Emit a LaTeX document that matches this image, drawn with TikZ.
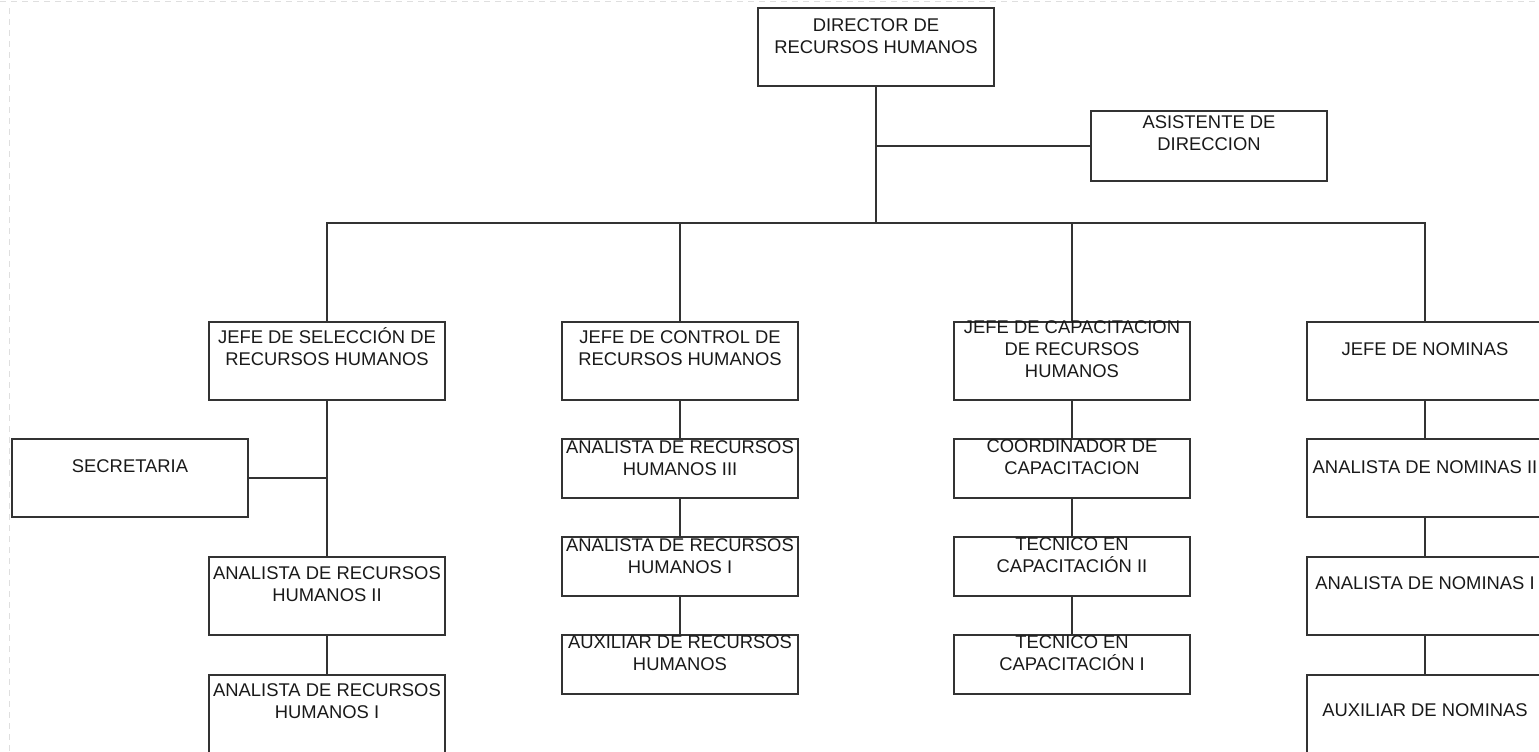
\documentclass[tikz,border=0pt]{standalone}
\usepackage{fontspec}
\setmainfont{Liberation Sans}
\begin{document}
\begin{tikzpicture}[x=0.5pt,y=-0.5pt,
  box/.style={draw=black!80, line width=0.75pt, rectangle, inner sep=0pt, outer sep=0pt,
    minimum width=118pt, anchor=north},
  tall/.style={box, minimum height=39pt},
  short/.style={box, minimum height=29.5pt},
  txt/.style={font=\fontsize{9.2}{11}\selectfont, align=center, inner sep=0pt, anchor=base, text=black!90},
  link/.style={draw=black!80, line width=0.75pt},
  frame/.style={draw=gray!25, line width=0.8pt, dash pattern=on 3pt off 2.5pt}]
\useasboundingbox (0,0) rectangle (1539,751);
\draw[frame] (9.5,8) -- (9.5,751);
\draw[frame] (0,1.5) -- (1539,1.5);
\begin{scope}
\clip (0,0) rectangle (1539,751);
% boxes
\node[tall] (dir) at (876,8) {};
\node[box, minimum height=35pt] (asis) at (1209,111) {};
\node[tall] (sel) at (327,322) {};
\node[tall] (ctl) at (680,322) {};
\node[tall] (cap) at (1072,322) {};
\node[tall] (nom) at (1425,322) {};
\node[tall] (sec) at (130,439) {};
\node[tall] (anb) at (327,557) {};
\node[tall] (ana) at (327,675) {};
\node[short] (c3) at (680,439) {};
\node[short] (c1) at (680,537) {};
\node[short] (caux) at (680,635) {};
\node[short] (coord) at (1072,439) {};
\node[short] (tec2) at (1072,537) {};
\node[short] (tec1) at (1072,635) {};
\node[tall] (nom2) at (1425,439) {};
\node[tall] (nom1) at (1425,557) {};
\node[tall] (nomx) at (1425,675) {};
% connectors
\coordinate (bus) at (876,223);
\draw[link] (dir.south) -- (bus);
\draw[link] (asis.west) -- (asis.west -| dir.south);
\draw[link] (sel.north) |- (bus) -| (nom.north);
\draw[link] (ctl.north) -- (ctl.north |- bus);
\draw[link] (cap.north) -- (cap.north |- bus);
\draw[link] (sel.south) -- (anb.north);
\draw[link] (sec.east) -- (sec.east -| sel.south);
\draw[link] (anb.south) -- (ana.north);
\draw[link] (ctl.south) -- (c3.north);
\draw[link] (c3.south) -- (c1.north);
\draw[link] (c1.south) -- (caux.north);
\draw[link] (cap.south) -- (coord.north);
\draw[link] (coord.south) -- (tec2.north);
\draw[link] (tec2.south) -- (tec1.north);
\draw[link] (nom.south) -- (nom2.north);
\draw[link] (nom2.south) -- (nom1.north);
\draw[link] (nom1.south) -- (nomx.north);
% texts (anchor = baseline of last line)
\node[txt] (tdir) at (876,53.5) {DIRECTOR DE\\RECURSOS HUMANOS};
\node[txt] (tasis) at (1209,150) {ASISTENTE DE\\DIRECCION};
\node[txt] (tsel) at (327,365.5) {JEFE DE SELECCIÓN DE\\RECURSOS HUMANOS};
\node[txt] (tctl) at (680,365) {JEFE DE CONTROL DE\\RECURSOS HUMANOS};
\node[txt] (tcap) at (1072,377) {JEFE DE CAPACITACION\\DE RECURSOS\\HUMANOS};
\node[txt] (tnom) at (1425,355) {JEFE DE NOMINAS};
\node[txt] (tsec) at (130,472) {SECRETARIA};
\node[txt] (tanb) at (327,601) {ANALISTA DE RECURSOS\\HUMANOS II};
\node[txt] (tana) at (327,718.5) {ANALISTA DE RECURSOS\\HUMANOS I};
\node[txt] (tc3) at (680,475) {ANALISTA DE RECURSOS\\HUMANOS III};
\node[txt] (tc1) at (680,573.5) {ANALISTA DE RECURSOS\\HUMANOS I};
\node[txt] (tcaux) at (680,670) {AUXILIAR DE RECURSOS\\HUMANOS};
\node[txt] (tcoord) at (1072,474) {COORDINADOR DE\\CAPACITACION};
\node[txt] (ttec2) at (1072,572) {TECNICO EN\\CAPACITACIÓN II};
\node[txt] (ttec1) at (1072,670) {TECNICO EN\\CAPACITACIÓN I};
\node[txt] (tnom2) at (1425,473) {ANALISTA DE NOMINAS II};
\node[txt] (tnom1) at (1425,589.5) {ANALISTA DE NOMINAS I};
\node[txt] (tnomx) at (1425,716.5) {AUXILIAR DE NOMINAS};
\end{scope}
\end{tikzpicture}
\end{document}
